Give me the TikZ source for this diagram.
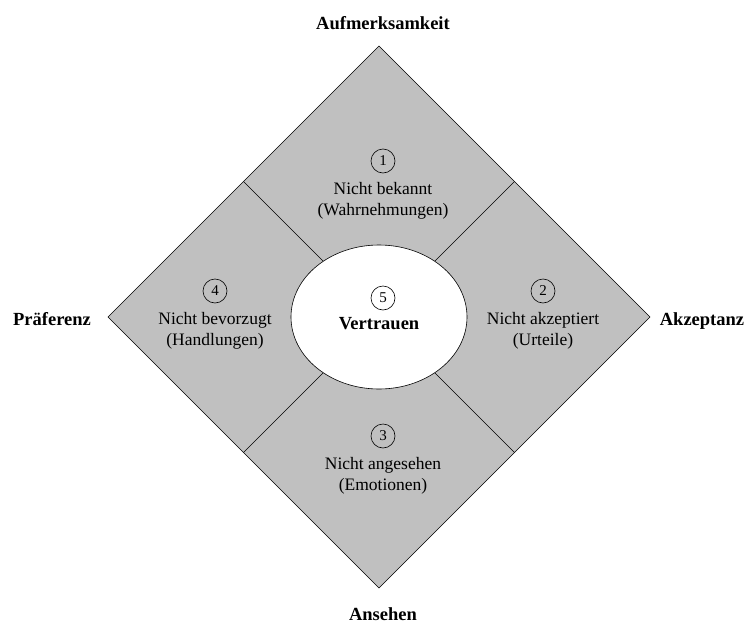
\documentclass[tikz,border=0pt]{standalone}
\usepackage{fontspec}
\setmainfont{LiberationSerif}[Extension=.ttf, UprightFont=*-Regular, BoldFont=*-Bold]
\usetikzlibrary{calc, positioning, shapes.geometric}
\definecolor{feldgrau}{RGB}{192,192,192}

\tikzset{
  nummer/.style={circle, draw, line width=0.6pt, inner sep=0pt, minimum size=24pt,
    font=\fontsize{15}{15}\selectfont},
  feldtext/.style={align=center, font=\fontsize{17.5}{21}\selectfont},
  achse/.style={anchor=base, font=\bfseries\fontsize{18.5}{18.5}\selectfont},
}

\begin{document}
\begin{tikzpicture}[x=1pt, y=-1pt, line width=0.6pt]
\useasboundingbox (0,0) rectangle (747,624);
% Eckpunkte der Raute
\coordinate (oben) at (379,46);
\coordinate (rechts) at (650,317);
\coordinate (unten) at (379,588);
\coordinate (links) at (108,317);
\draw[fill=feldgrau] (oben)--(rechts)--(unten)--(links)--cycle;
% Mittelpunkte der Seiten
\coordinate (ol) at ($(oben)!0.5!(links)$);
\coordinate (or) at ($(oben)!0.5!(rechts)$);
\coordinate (ul) at ($(unten)!0.5!(links)$);
\coordinate (ur) at ($(unten)!0.5!(rechts)$);
\node[ellipse, draw, fill=white, minimum width=176pt, minimum height=144pt, inner sep=0pt] (vertrauen) at (379,317) {};
\foreach \p in {ol,or,ul,ur} \draw (\p) -- (vertrauen);
% Felder
\node[nummer] (n1) at (383,161) {1};
\node[feldtext, below=5pt of n1] (t1) {Nicht bekannt\\(Wahrnehmungen)};
\node[nummer] (n2) at (543,291) {2};
\node[feldtext, below=5pt of n2] (t2) {Nicht akzeptiert\\(Urteile)};
\node[nummer] (n3) at (383,436) {3};
\node[feldtext, below=5pt of n3] (t3) {Nicht angesehen\\(Emotionen)};
\node[nummer] (n4) at (215,291) {4};
\node[feldtext, below=5pt of n4] (t4) {Nicht bevorzugt\\(Handlungen)};
\node[nummer] (n5) at (383,298) {5};
\node[feldtext, font=\bfseries\fontsize{18.5}{21}\selectfont, anchor=base] (t5) at (379,329) {Vertrauen};
% Achsen
\node[achse] (aufm) at (383,29) {Aufmerksamkeit};
\node[achse] (akz) at (702,325) {Akzeptanz};
\node[achse] (ans) at (383,620) {Ansehen};
\node[achse] (praef) at (52,325) {Präferenz};
\end{tikzpicture}
\end{document}
